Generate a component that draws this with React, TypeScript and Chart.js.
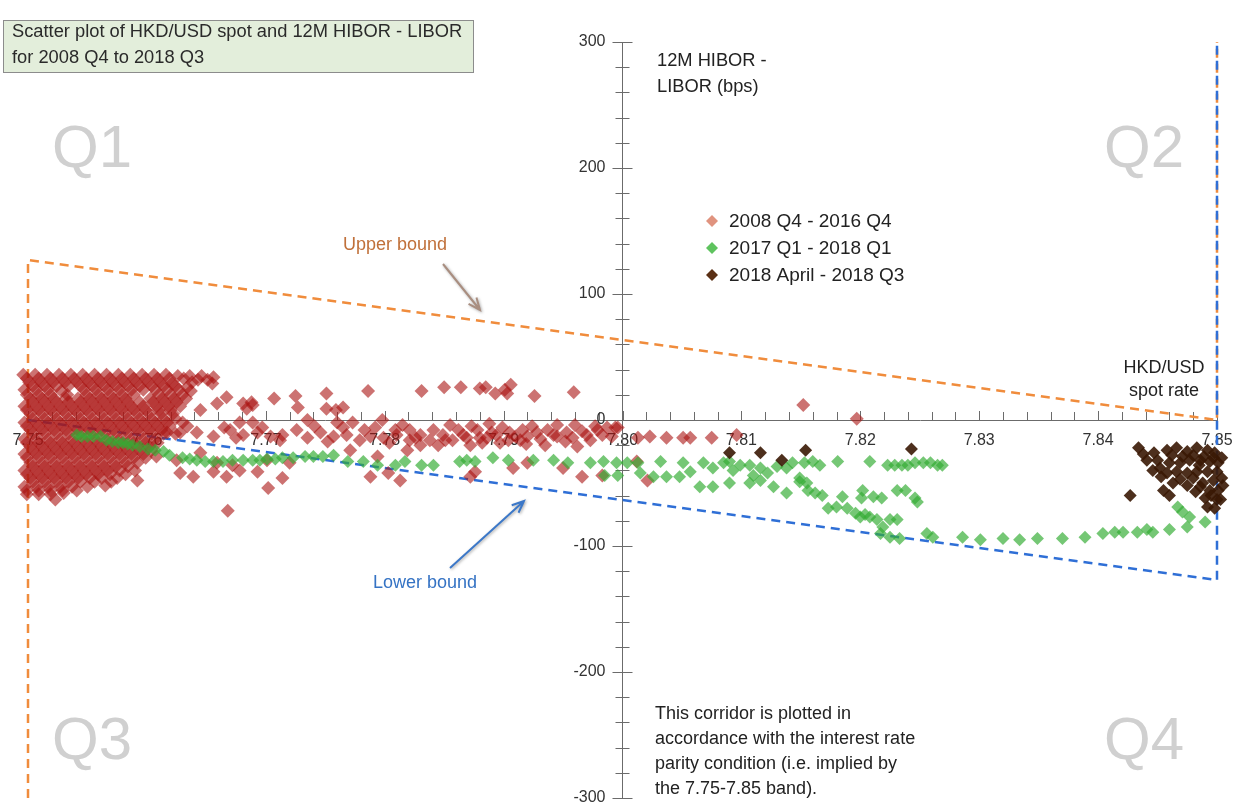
import React, { useEffect, useRef } from 'react';
import { Chart, registerables } from 'chart.js';
Chart.register(...registerables);

const seriesLabels = ['2008 Q4 - 2016 Q4', '2017 Q1 - 2018 Q1', '2018 April - 2018 Q3'];
const xMin = 7.75;
const xMax = 7.85;
const yMin = -300;
const yMax = 300;
const xOrigin = 7.8;

// Upper / lower bound corridor (interest rate parity)
const upperX = [7.75, 7.75, 7.85, 7.85];
const upperY = [-300, 127, 0, 300];
const lowerX = [7.75, 7.85, 7.85];
const lowerY = [0, -127, 300];

// 2008 Q4 - 2016 Q4
const seriesRed: [number, number][] = [
  [7.7496, 36], [7.7506, 36], [7.7516, 36], [7.7526, 36], [7.7536, 36], [7.7546, 36], [7.7556, 36], [7.7566, 36], [7.7576, 36], [7.7586, 36], [7.7596, 36], [7.7606, 36], [7.7616, 36], [7.7626, 35], [7.7636, 35], [7.7646, 35], [7.7656, 34],
  [7.7499, 33], [7.7509, 33], [7.7519, 33], [7.7529, 33], [7.7539, 33], [7.7549, 33], [7.7559, 33], [7.7569, 33], [7.7579, 33], [7.7589, 33], [7.7599, 33], [7.7609, 33], [7.7619, 33], [7.7631, 33], [7.7643, 32], [7.7651, 32],
  [7.7501, 30], [7.7511, 30], [7.7521, 30], [7.7531, 30], [7.7541, 30], [7.7551, 30], [7.7561, 30], [7.7571, 30], [7.7581, 30], [7.7591, 30], [7.7601, 30], [7.7611, 30], [7.7621, 29], [7.7638, 30], [7.7655, 29],
  [7.7504, 27], [7.7514, 27], [7.7524, 27], [7.7534, 27], [7.7544, 27], [7.7554, 27], [7.7564, 27], [7.7574, 27], [7.7584, 27], [7.7594, 27], [7.7604, 27], [7.7614, 27], [7.7624, 27], [7.7634, 26],
  [7.7497, 24], [7.7507, 24], [7.7517, 24], [7.7528, 23], [7.7547, 24], [7.7557, 24], [7.7567, 24], [7.7577, 24], [7.7587, 24], [7.7597, 24], [7.7607, 24], [7.7617, 24], [7.7627, 24], [7.7637, 23],
  [7.7499, 20], [7.7509, 20], [7.7519, 20], [7.7533, 20], [7.7549, 20], [7.7559, 20], [7.7569, 20], [7.7579, 20], [7.7589, 20], [7.7610, 20], [7.7620, 20], [7.7630, 20],
  [7.7502, 17], [7.7512, 17], [7.7522, 17], [7.7532, 17], [7.7542, 17], [7.7552, 17], [7.7562, 17], [7.7572, 17], [7.7582, 17], [7.7603, 17], [7.7613, 17], [7.7623, 17], [7.7633, 17],
  [7.7504, 14], [7.7514, 14], [7.7524, 14], [7.7534, 14], [7.7544, 14], [7.7554, 14], [7.7564, 14], [7.7574, 14], [7.7584, 14], [7.7594, 14], [7.7605, 14], [7.7615, 14], [7.7625, 14],
  [7.7497, 11], [7.7507, 11], [7.7517, 11], [7.7527, 11], [7.7537, 11], [7.7547, 11], [7.7557, 11], [7.7567, 11], [7.7577, 11], [7.7587, 11], [7.7597, 11], [7.7608, 11], [7.7618, 11], [7.7628, 11],
  [7.7499, 8], [7.7509, 8], [7.7519, 8], [7.7529, 8], [7.7539, 8], [7.7549, 8], [7.7559, 8], [7.7569, 8], [7.7579, 8], [7.7589, 8], [7.7599, 8], [7.7610, 8], [7.7620, 8],
  [7.7502, 5], [7.7512, 5], [7.7522, 5], [7.7532, 5], [7.7542, 5], [7.7552, 5], [7.7562, 5], [7.7572, 5], [7.7582, 5], [7.7592, 5], [7.7602, 5], [7.7612, 5], [7.7622, 5],
  [7.7504, 1], [7.7514, 1], [7.7524, 1], [7.7534, 1], [7.7544, 1], [7.7554, 1], [7.7564, 1], [7.7574, 1], [7.7584, 1], [7.7594, 1], [7.7604, 1], [7.7614, 1], [7.7624, 1],
  [7.7497, -2], [7.7507, -2], [7.7517, -2], [7.7527, -2], [7.7537, -2], [7.7547, -2], [7.7557, -2], [7.7567, -2], [7.7577, -2], [7.7587, -2], [7.7597, -2], [7.7607, -2], [7.7617, -2], [7.7630, -2],
  [7.7499, -5], [7.7509, -5], [7.7519, -5], [7.7529, -5], [7.7539, -5], [7.7549, -5], [7.7559, -5], [7.7569, -5], [7.7579, -5], [7.7589, -5], [7.7599, -5], [7.7609, -5], [7.7619, -5], [7.7634, -5],
  [7.7502, -8], [7.7512, -8], [7.7522, -8], [7.7532, -8], [7.7542, -8], [7.7552, -8], [7.7562, -8], [7.7572, -8], [7.7582, -8], [7.7592, -8], [7.7602, -8], [7.7612, -8],
  [7.7504, -11], [7.7514, -11], [7.7524, -11], [7.7534, -11], [7.7544, -11], [7.7554, -11], [7.7564, -11], [7.7574, -11], [7.7584, -11], [7.7594, -11], [7.7604, -11], [7.7614, -11], [7.7624, -11],
  [7.7497, -15], [7.7507, -15], [7.7517, -15], [7.7527, -15], [7.7537, -15], [7.7547, -15], [7.7557, -15], [7.7567, -15], [7.7577, -15], [7.7587, -15], [7.7597, -15], [7.7607, -15],
  [7.7499, -18], [7.7509, -18], [7.7519, -18], [7.7529, -18], [7.7539, -18], [7.7549, -18], [7.7559, -18], [7.7569, -18], [7.7579, -18], [7.7589, -18], [7.7599, -18], [7.7609, -18],
  [7.7502, -21], [7.7512, -21], [7.7522, -21], [7.7532, -21], [7.7542, -21], [7.7552, -21], [7.7562, -21], [7.7572, -21], [7.7582, -21], [7.7592, -21], [7.7602, -21],
  [7.7504, -24], [7.7514, -24], [7.7524, -24], [7.7534, -24], [7.7544, -24], [7.7554, -24], [7.7564, -24], [7.7574, -24], [7.7584, -24], [7.7594, -24], [7.7604, -24],
  [7.7497, -27], [7.7507, -27], [7.7517, -27], [7.7527, -27], [7.7537, -27], [7.7547, -27], [7.7557, -27], [7.7567, -27], [7.7577, -27], [7.7587, -27], [7.7597, -27],
  [7.7499, -30], [7.7509, -30], [7.7519, -30], [7.7529, -30], [7.7539, -30], [7.7549, -30], [7.7559, -30], [7.7569, -30], [7.7579, -30], [7.7589, -30], [7.7599, -30],
  [7.7502, -34], [7.7512, -34], [7.7522, -34], [7.7532, -34], [7.7542, -34], [7.7552, -34], [7.7562, -34], [7.7572, -34], [7.7582, -34], [7.7592, -34],
  [7.7504, -37], [7.7514, -37], [7.7524, -37], [7.7534, -37], [7.7544, -37], [7.7554, -37], [7.7564, -37], [7.7574, -37], [7.7584, -37],
  [7.7497, -40], [7.7507, -40], [7.7517, -40], [7.7527, -40], [7.7537, -40], [7.7547, -40], [7.7557, -40], [7.7567, -40], [7.7577, -40], [7.7590, -40],
  [7.7499, -43], [7.7509, -43], [7.7519, -43], [7.7529, -43], [7.7539, -43], [7.7549, -43], [7.7559, -43], [7.7569, -43], [7.7582, -43],
  [7.7502, -46], [7.7512, -46], [7.7522, -46], [7.7532, -46], [7.7542, -46], [7.7552, -46], [7.7562, -46], [7.7575, -46], [7.7592, -48],
  [7.7504, -49], [7.7514, -49], [7.7524, -49], [7.7534, -49], [7.7544, -49], [7.7556, -49], [7.7570, -49],
  [7.7497, -53], [7.7507, -53], [7.7517, -53], [7.7527, -53], [7.7537, -53], [7.7550, -53], [7.7565, -52],
  [7.7499, -56], [7.7509, -56], [7.7519, -56], [7.7529, -56], [7.7541, -56],
  [7.7499, -59], [7.7509, -59], [7.7519, -59], [7.7530, -58], [7.7523, -63],
  [7.7667, 18], [7.7681, 13], [7.7688, 14], [7.7689, 12], [7.7707, 17], [7.7725, 19], [7.7727, 10], [7.7684, 9], [7.7659, 13], [7.7645, 8],
  [7.7751, 21], [7.7786, 23], [7.7831, 23], [7.7850, 26], [7.7864, 26], [7.7880, 25], [7.7885, 26], [7.7893, 21], [7.7901, 24], [7.7903, 21], [7.7906, 28], [7.7926, 19], [7.7959, 22],
  [7.7751, 9], [7.7759, 8], [7.7765, 10], [7.8152, 12], [7.8197, 1],
  [7.7678, -2], [7.7689, -2], [7.7735, 0], [7.7760, -2], [7.7773, -2], [7.7798, 0], [7.7855, -4], [7.7873, -5], [7.7888, -3], [7.7924, -5], [7.7945, -4], [7.7960, -4], [7.7977, -5], [7.7996, -6],
  [7.7617, -10], [7.7628, -10], [7.7642, -10], [7.7656, -13], [7.7670, -8], [7.7681, -12], [7.7693, -10], [7.7704, -13], [7.7714, -12], [7.7726, -8], [7.7735, -14], [7.7746, -10], [7.7757, -13], [7.7768, -12], [7.7779, -16], [7.7788, -13], [7.7799, -14], [7.7810, -12], [7.7821, -16],
  [7.7665, -6], [7.7675, -14], [7.7697, -6], [7.7712, -16], [7.7741, -5], [7.7752, -17], [7.7783, -8], [7.7815, -4], [7.7838, -16], [7.7862, -8], [7.7882, -18], [7.7899, -6], [7.7916, -8], [7.7931, -15], [7.7958, -14], [7.7983, -12],
  [7.7765, -6], [7.7792, -6], [7.7809, -8], [7.7826, -14], [7.7845, -20], [7.7866, -12], [7.7880, -14], [7.7904, -16], [7.7919, -19], [7.7942, -12], [7.7966, -9], [7.7991, -13],
  [7.7821, -8], [7.7830, -12], [7.7841, -8], [7.7849, -12], [7.7857, -16], [7.7869, -14], [7.7878, -8], [7.7886, -14], [7.7894, -12], [7.7905, -10], [7.7920, -13], [7.7928, -10], [7.7937, -8], [7.7945, -13], [7.7953, -10], [7.7962, -21], [7.7970, -12], [7.7979, -8], [7.7987, -6], [7.7994, -6],
  [7.7804, -18], [7.7830, -20], [7.7851, -16], [7.7872, -20], [7.7897, -18], [7.7914, -16], [7.7935, -20], [7.7952, -17], [7.7973, -16], [7.7890, -10], [7.7910, -13],
  [7.7608, -29], [7.7625, -32], [7.7645, -26], [7.7659, -34], [7.7672, -36], [7.7701, -32], [7.7720, -34], [7.7771, -24], [7.7794, -29], [7.7819, -24],
  [7.7628, -42], [7.7639, -45], [7.7656, -41], [7.7667, -45], [7.7678, -40], [7.7693, -41], [7.7714, -46], [7.7788, -45], [7.7803, -42], [7.7813, -48],
  [7.7702, -54], [7.7668, -72], [7.7876, -41], [7.7908, -38], [7.7920, -34], [7.7950, -38], [7.7872, -45], [7.7966, -45], [7.7983, -44], [7.8012, -33], [7.8021, -48],
  [7.8013, -14], [7.8023, -13], [7.8037, -14], [7.8051, -14], [7.8057, -14], [7.8075, -14], [7.8096, -12],
];

// 2017 Q1 - 2018 Q1
const seriesGreen: [number, number][] = [
  [7.7541, -12], [7.7545, -13], [7.7550, -13], [7.7555, -13], [7.7561, -13], [7.7566, -16], [7.7571, -17], [7.7576, -18], [7.7580, -18], [7.7584, -19], [7.7588, -20], [7.7594, -21],
  [7.7601, -23], [7.7607, -24], [7.7614, -25], [7.7619, -28], [7.7630, -30], [7.7636, -31], [7.7642, -32], [7.7649, -33], [7.7656, -33], [7.7664, -33], [7.7672, -32], [7.7681, -32],
  [7.7689, -32], [7.7695, -32], [7.7701, -31], [7.7708, -31], [7.7714, -30], [7.7723, -30], [7.7733, -29], [7.7740, -29], [7.7748, -29], [7.7757, -28], [7.7769, -33], [7.7782, -33],
  [7.7794, -36], [7.7809, -36], [7.7817, -33], [7.7831, -36], [7.7841, -36], [7.7863, -33], [7.7869, -32], [7.7876, -33], [7.7891, -30], [7.7904, -32], [7.7925, -32], [7.7942, -32],
  [7.7954, -34], [7.7973, -34], [7.7984, -33], [7.7995, -34], [7.8004, -34], [7.7985, -44], [7.7996, -44], [7.8013, -34], [7.8032, -33], [7.8051, -34],
  [7.8015, -42], [7.8026, -45], [7.8037, -45], [7.8048, -45], [7.8057, -41], [7.8068, -34], [7.8076, -38], [7.8085, -34], [7.8090, -33], [7.8093, -40], [7.8099, -36], [7.8107, -36],
  [7.8116, -38], [7.8122, -42], [7.8130, -37], [7.8138, -38], [7.8143, -34], [7.8153, -34], [7.8160, -33], [7.8065, -53], [7.8076, -53], [7.8090, -50], [7.8107, -50], [7.8116, -48],
  [7.8127, -53], [7.8138, -58], [7.8149, -49], [7.8156, -56], [7.8110, -44],
  [7.8166, -36], [7.8181, -33], [7.8208, -33], [7.8223, -36], [7.8229, -36], [7.8235, -36], [7.8240, -36], [7.8246, -34], [7.8253, -34], [7.8259, -34], [7.8265, -36], [7.8269, -36],
  [7.8149, -46], [7.8155, -50], [7.8162, -58], [7.8168, -60], [7.8185, -61], [7.8202, -56], [7.8201, -62], [7.8211, -61], [7.8218, -62], [7.8231, -56], [7.8238, -56], [7.8246, -62], [7.8248, -65],
  [7.8173, -70], [7.8180, -69], [7.8189, -70], [7.8196, -74], [7.8200, -77], [7.8204, -75], [7.8208, -77], [7.8214, -79], [7.8219, -85], [7.8225, -79], [7.8231, -79],
  [7.8217, -90], [7.8225, -93], [7.8233, -94], [7.8256, -90], [7.8261, -93], [7.8286, -93], [7.8301, -95], [7.8320, -94], [7.8334, -95], [7.8349, -94], [7.8370, -94], [7.8389, -93],
  [7.8404, -90], [7.8414, -89], [7.8421, -89], [7.8433, -89], [7.8441, -87], [7.8446, -89], [7.8460, -87], [7.8475, -85], [7.8490, -81], [7.8467, -69], [7.8471, -73], [7.8477, -77],
];

// 2018 April - 2018 Q3
const seriesBrown: [number, number][] = [
  [7.8090, -26], [7.8116, -26], [7.8134, -32], [7.8154, -24], [7.8243, -23], [7.8434, -22],
  [7.8441, -32], [7.8450, -32], [7.8458, -24], [7.8466, -22], [7.8475, -25], [7.8483, -22], [7.8492, -24], [7.8498, -26], [7.8501, -34], [7.8494, -33], [7.8486, -32], [7.8477, -32],
  [7.8469, -34], [7.8460, -34], [7.8452, -38], [7.8446, -40], [7.8458, -42], [7.8466, -41], [7.8475, -42], [7.8483, -41], [7.8492, -41], [7.8500, -41], [7.8480, -46], [7.8488, -50],
  [7.8497, -48], [7.8501, -56], [7.8494, -56], [7.8486, -53], [7.8475, -52], [7.8455, -56], [7.8460, -60], [7.8490, -62], [7.8500, -63], [7.8492, -69], [7.8498, -70], [7.8427, -60],
  [7.8504, -30], [7.8504, -46], [7.8503, -63],
  [7.8438, -27], [7.8447, -26], [7.8462, -28], [7.8471, -29], [7.8480, -28], [7.8489, -29], [7.8497, -30], [7.8469, -47], [7.8463, -50], [7.8482, -57], [7.8495, -60], [7.8505, -52],
  [7.8506, -40], [7.8453, -45], [7.8485, -36],
];

const redColor = 'rgba(170, 20, 18, 0.6)';
const greenColor = 'rgba(52, 172, 52, 0.68)';
const brownColor = 'rgba(58, 24, 4, 0.9)';
const legendColors = ['#e0937f', '#5ec35e', '#5b3015'];
const FONT = '"Liberation Sans", Arial, Helvetica, sans-serif';

function drawArrow(ctx: CanvasRenderingContext2D, x1: number, y1: number, x2: number, y2: number, color: string) {
  ctx.save();
  ctx.strokeStyle = color;
  ctx.lineWidth = 2;
  ctx.shadowColor = 'rgba(0,0,0,0.35)';
  ctx.shadowBlur = 3;
  ctx.shadowOffsetX = 1;
  ctx.shadowOffsetY = 1;
  ctx.beginPath();
  ctx.moveTo(x1, y1);
  ctx.lineTo(x2, y2);
  const a = Math.atan2(y2 - y1, x2 - x1);
  const h = 13;
  ctx.moveTo(x2 - h * Math.cos(a - 0.4), y2 - h * Math.sin(a - 0.4));
  ctx.lineTo(x2, y2);
  ctx.lineTo(x2 - h * Math.cos(a + 0.4), y2 - h * Math.sin(a + 0.4));
  ctx.stroke();
  ctx.restore();
}

const decorPlugin = {
  id: 'decor',
  beforeDatasetsDraw(chart: any) {
    const { ctx } = chart;
    const xs = chart.scales.x;
    const ys = chart.scales.y;
    const ox = xs.getPixelForValue(xOrigin);
    const oy = ys.getPixelForValue(0);
    ctx.save();
    // quadrant labels
    ctx.fillStyle = '#d0d0d0';
    ctx.font = `60px ${FONT}`;
    ctx.textAlign = 'center';
    ctx.textBaseline = 'middle';
    ctx.fillText('Q1', 92, 150);
    ctx.fillText('Q2', 1144, 150);
    ctx.fillText('Q3', 92, 742);
    ctx.fillText('Q4', 1144, 742);
    // tick marks
    ctx.strokeStyle = '#6b6b6b';
    ctx.lineWidth = 1;
    ctx.beginPath();
    for (let i = 0; i <= 50; i++) {
      const px = Math.round(xs.getPixelForValue(xMin + i * 0.002)) + 0.5;
      const len = i % 5 === 0 ? 9 : 8;
      ctx.moveTo(px, oy);
      ctx.lineTo(px, oy - len);
    }
    for (let i = -15; i <= 15; i++) {
      const py = Math.round(ys.getPixelForValue(i * 20)) + 0.5;
      const half = i % 5 === 0 ? 10 : 7;
      ctx.moveTo(ox - half, py);
      ctx.lineTo(ox + half, py);
    }
    ctx.stroke();
    // y tick labels (left of the centred axis)
    ctx.fillStyle = '#333';
    ctx.font = `16px ${FONT}`;
    ctx.textAlign = 'right';
    ctx.textBaseline = 'middle';
    ys.ticks.forEach((t: any) => {
      ctx.fillText(String(t.value), ox - 17, ys.getPixelForValue(t.value));
    });
    ctx.restore();
  },
  afterDraw(chart: any) {
    const { ctx } = chart;
    ctx.save();
    // title box
    ctx.fillStyle = '#e3eedb';
    ctx.fillRect(3, 20, 470, 53);
    ctx.strokeStyle = '#8c8c8c';
    ctx.lineWidth = 1;
    ctx.strokeRect(3.5, 20.5, 470, 52);
    ctx.fillStyle = '#2a2a2a';
    ctx.font = `18.3px ${FONT}`;
    ctx.textAlign = 'left';
    ctx.textBaseline = 'middle';
    ctx.fillText('Scatter plot of HKD/USD spot and 12M HIBOR - LIBOR', 12, 32);
    ctx.fillText('for 2008 Q4 to 2018 Q3', 12, 58);
    // axis titles
    ctx.fillStyle = '#222';
    ctx.font = `18.3px ${FONT}`;
    ctx.fillText('12M HIBOR -', 657, 61);
    ctx.fillText('LIBOR (bps)', 657, 87);
    ctx.textAlign = 'center';
    ctx.font = `18px ${FONT}`;
    ctx.fillText('HKD/USD', 1164, 368);
    ctx.fillText('spot rate', 1164, 391);
    // legend
    ctx.textAlign = 'left';
    ctx.font = `19px ${FONT}`;
    const ly = [221, 248, 275];
    seriesLabels.forEach((lab, i) => {
      ctx.fillStyle = legendColors[i];
      ctx.beginPath();
      ctx.moveTo(712 - 6, ly[i]);
      ctx.lineTo(712, ly[i] - 6);
      ctx.lineTo(712 + 6, ly[i]);
      ctx.lineTo(712, ly[i] + 6);
      ctx.closePath();
      ctx.fill();
      ctx.fillStyle = '#222';
      ctx.fillText(lab, 729, ly[i] + 1);
    });
    // bound labels and arrows
    ctx.font = `18px ${FONT}`;
    ctx.fillStyle = '#c0703a';
    ctx.fillText('Upper bound', 343, 245);
    ctx.fillStyle = '#3573c4';
    ctx.fillText('Lower bound', 373, 583);
    drawArrow(ctx, 443, 264, 480, 310, '#a98e80');
    drawArrow(ctx, 450, 568, 524, 501, '#3c78c8');
    // note
    ctx.fillStyle = '#222';
    const note = ['This corridor is plotted in', 'accordance with the interest rate', 'parity condition (i.e. implied by', 'the 7.75-7.85 band).'];
    note.forEach((t, i) => ctx.fillText(t, 655, 714 + i * 25));
    ctx.restore();
  },
};

export default function App() {
  const ref = useRef<HTMLCanvasElement | null>(null);
  useEffect(() => {
    if (!ref.current) return;
    const pt = (arr: [number, number][]) => arr.map(([x, y]) => ({ x, y }));
    const chart = new Chart(ref.current, {
      type: 'scatter',
      data: {
        datasets: [
          { label: seriesLabels[0], data: pt(seriesRed), pointStyle: 'rectRot', pointRadius: 7, pointHoverRadius: 7, backgroundColor: redColor, borderWidth: 0, pointBorderWidth: 0, order: 3, clip: false } as any,
          { label: seriesLabels[1], data: pt(seriesGreen), pointStyle: 'rectRot', pointRadius: 6.5, pointHoverRadius: 6.5, backgroundColor: greenColor, borderWidth: 0, pointBorderWidth: 0, order: 2, clip: false } as any,
          { label: seriesLabels[2], data: pt(seriesBrown), pointStyle: 'rectRot', pointRadius: 6.5, pointHoverRadius: 6.5, backgroundColor: brownColor, borderWidth: 0, pointBorderWidth: 0, order: 1, clip: false } as any,
          { label: 'Upper bound', data: upperX.map((x, i) => ({ x, y: upperY[i] })), showLine: true, borderColor: '#f08c3c', borderWidth: 2.5, borderDash: [9, 6], pointRadius: 0, order: 5, clip: false } as any,
          { label: 'Lower bound', data: lowerX.map((x, i) => ({ x, y: lowerY[i] })), showLine: true, borderColor: '#2f6fd6', borderWidth: 2.5, borderDash: [9, 6], pointRadius: 0, order: 4, clip: false } as any,
        ],
      },
      options: {
        responsive: false,
        animation: false,
        layout: { padding: { left: 28, right: 28, top: 42, bottom: 7 } },
        plugins: { legend: { display: false }, tooltip: { enabled: false } },
        scales: {
          x: {
            type: 'linear',
            min: xMin,
            max: xMax,
            position: { y: 0 } as any,
            grid: { display: true, drawOnChartArea: false, drawTicks: false },
            border: { display: true, color: '#6b6b6b', width: 1 },
            ticks: {
              stepSize: 0.01,
              autoSkip: false,
              maxRotation: 0,
              padding: 11,
              color: '#333',
              font: { family: FONT, size: 16 },
              callback: (v: any) => Number(v).toFixed(2),
            },
          },
          y: {
            type: 'linear',
            min: yMin,
            max: yMax,
            position: { x: xOrigin } as any,
            grid: { display: true, drawOnChartArea: false, drawTicks: false },
            border: { display: true, color: '#6b6b6b', width: 1 },
            ticks: { stepSize: 100, display: false },
          },
        },
      },
      plugins: [decorPlugin],
    });
    return () => chart.destroy();
  }, []);
  return (
    <div style={{ position: 'fixed', left: 0, top: 0, width: 1236, height: 805, overflow: 'hidden', background: '#fff' }}>
      <canvas ref={ref} width={1245} height={805} style={{ display: 'block' }} />
    </div>
  );
}
